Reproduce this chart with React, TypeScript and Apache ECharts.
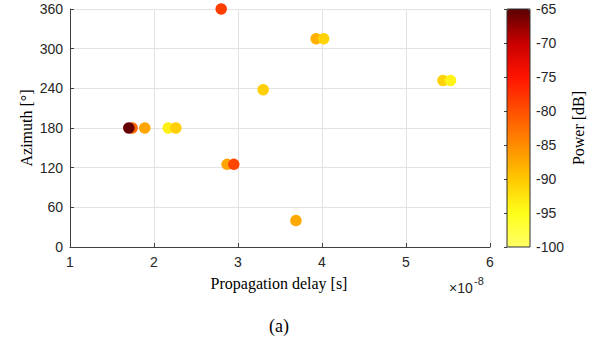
import React, { useEffect, useRef } from "react";
import * as echarts from "echarts";

const delays = [1.74, 1.7, 1.89, 2.17, 2.26, 2.8, 2.87, 2.95, 3.3, 3.69, 3.93, 4.02, 5.44, 5.53];
const azimuths = [180, 180, 180, 180, 180, 360, 125, 125, 238, 40, 315, 315, 252, 252];
const powers = [-82, -65.5, -87, -93.5, -90.5, -78.5, -87, -79, -90.5, -87.5, -88, -91, -91, -94];
const colorStops = ["#ffff66", "#ffff1a", "#ffc800", "#ff8c00", "#ff5000", "#ff1400", "#c80000", "#5a0000"];

const TICK_FONT = "'Liberation Sans', Arial, sans-serif";
const TITLE_FONT = "'Liberation Serif', 'Times New Roman', serif";

export default function App() {
  const ref = useRef<HTMLDivElement>(null);
  useEffect(() => {
    if (!ref.current) return;
    document.body.style.margin = "0";
    const chart = echarts.init(ref.current, undefined, { renderer: "svg" });
    const data = delays.map((d, i) => [d, azimuths[i], powers[i]]);
    chart.setOption({
      animation: false,
      backgroundColor: "#ffffff",
      grid: [
        { left: 70, right: 108, top: 9, bottom: 91 },
        { left: 507, width: 23, top: 9, height: 238 },
      ],
      xAxis: [
        {
          gridIndex: 0,
          type: "value",
          min: 1,
          max: 6,
          interval: 1,
          axisLine: { show: true, lineStyle: { color: "#404040", width: 1 } },
          axisTick: { show: true, inside: true, length: 4, lineStyle: { color: "#404040" } },
          axisLabel: { fontFamily: TICK_FONT, fontSize: 14, color: "#262626", margin: 8 },
          splitLine: { show: true, lineStyle: { color: "#e3e3e3" } },
        },
        { gridIndex: 1, type: "value", show: false, min: 0, max: 1 },
      ],
      yAxis: [
        {
          gridIndex: 0,
          type: "value",
          min: 0,
          max: 360,
          interval: 60,
          axisLine: { show: true, lineStyle: { color: "#404040", width: 1 } },
          axisTick: { show: true, inside: true, length: 4, lineStyle: { color: "#404040" } },
          axisLabel: { fontFamily: TICK_FONT, fontSize: 14, color: "#262626", margin: 7 },
          splitLine: { show: true, lineStyle: { color: "#e3e3e3" } },
        },
        {
          gridIndex: 1,
          type: "value",
          position: "right",
          min: -100,
          max: -65,
          interval: 5,
          axisLine: { show: false },
          axisTick: { show: true, inside: true, length: 3, lineStyle: { color: "#404040" } },
          axisLabel: { fontFamily: TICK_FONT, fontSize: 14, color: "#262626", margin: 6 },
          splitLine: { show: false },
        },
      ],
      visualMap: {
        type: "continuous",
        seriesIndex: 0,
        dimension: 2,
        min: -100,
        max: -65,
        inRange: { color: colorStops },
        left: 507,
        top: 9,
        itemWidth: 23,
        itemHeight: 238,
        padding: 0,
        calculable: false,
        text: null,
        showLabel: false,
      },
      graphic: [
        {
          type: "rect",
          shape: { x: 507, y: 9, width: 23, height: 238 },
          style: { fill: "none", stroke: "#303030", lineWidth: 1 },
          z: 100,
        },
        {
          type: "text",
          x: 279,
          y: 283,
          style: { text: "Propagation delay [s]", font: `16px ${TITLE_FONT}`, fill: "#000", align: "center", verticalAlign: "middle" },
        },
        {
          type: "text",
          x: 26,
          y: 128,
          rotation: Math.PI / 2,
          style: { text: "Azimuth [°]", font: `16px ${TITLE_FONT}`, fill: "#000", align: "center", verticalAlign: "middle" },
        },
        {
          type: "text",
          x: 578,
          y: 128,
          rotation: Math.PI / 2,
          style: { text: "Power [dB]", font: `16px ${TITLE_FONT}`, fill: "#000", align: "center", verticalAlign: "middle" },
        },
        {
          type: "text",
          x: 449,
          y: 288,
          style: { text: "×10", font: `14px ${TICK_FONT}`, fill: "#262626", align: "left", verticalAlign: "middle" },
        },
        {
          type: "text",
          x: 474,
          y: 281,
          style: { text: "-8", font: `11px ${TICK_FONT}`, fill: "#262626", align: "left", verticalAlign: "middle" },
        },
        {
          type: "text",
          x: 279,
          y: 326,
          style: { text: "(a)", font: `18px ${TITLE_FONT}`, fill: "#000", align: "center", verticalAlign: "middle" },
        },
      ],
      series: [
        {
          type: "scatter",
          xAxisIndex: 0,
          yAxisIndex: 0,
          symbolSize: 11.5,
          data,
          itemStyle: { opacity: 1 },
          emphasis: { disabled: true },
        },
      ],
    });
    return () => chart.dispose();
  }, []);
  return <div ref={ref} style={{ width: 598, height: 338 }} />;
}
